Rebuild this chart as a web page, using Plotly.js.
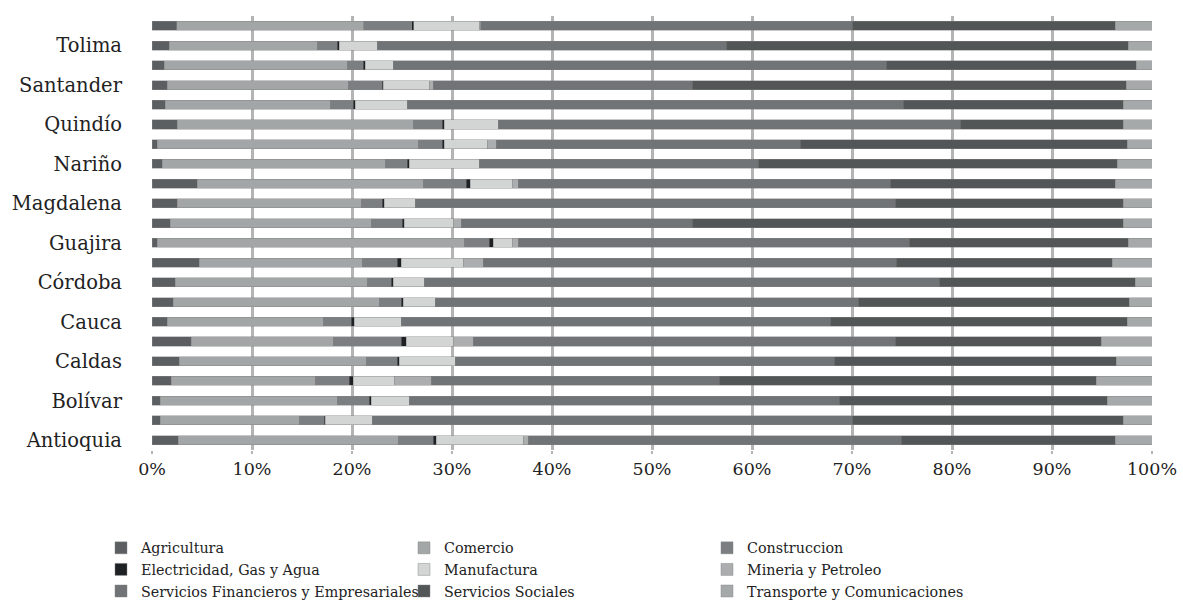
<!DOCTYPE html>
<html>
<head>
<meta charset="utf-8">
<script src="https://cdn.plot.ly/plotly-3.0.1.min.js"></script>
<style>html,body{margin:0;padding:0;background:#fff;}#chart{width:1183px;height:601px;}</style>
</head>
<body>
<div id="chart"></div>
<script>
// Departments, bottom to top
const departments = ['Antioquia','Atlántico','Bolívar','Boyacá','Caldas','Caquetá','Cauca','Cesar','Córdoba','Cundinamarca','Guajira','Huila','Magdalena','Meta','Nariño','Norte de Santander','Quindío','Risaralda','Santander','Sucre','Tolima','Valle del Cauca'];
const yTickLabels = ['Antioquia','Bolívar','Caldas','Cauca','Córdoba','Guajira','Magdalena','Nariño','Quindío','Santander','Tolima'];
const xTickVals = [0,10,20,30,40,50,60,70,80,90,100];
const xTickLabels = ['0%','10%','20%','30%','40%','50%','60%','70%','80%','90%','100%'];

// Shares (%) per sector, same order as departments
const agricultura   = [2.6,0.8,0.8,1.9,2.7,3.9,1.5,2.1,2.3,4.7,0.5,1.8,2.5,4.5,1.0,0.5,2.5,1.3,1.5,1.2,1.7,2.5];
const comercio      = [22.0,13.9,17.7,14.4,18.7,14.2,15.6,20.6,19.2,16.3,30.7,20.1,18.4,22.6,22.3,26.1,23.6,16.5,18.1,18.3,14.8,18.7];
const construccion  = [3.5,2.5,3.2,3.4,3.1,6.8,2.8,2.2,2.4,3.5,2.5,3.1,2.1,4.3,2.2,2.4,2.9,2.3,3.4,1.6,2.0,4.8];
const electricidad  = [0.3,0.1,0.2,0.4,0.2,0.5,0.3,0.2,0.2,0.4,0.4,0.2,0.2,0.4,0.2,0.2,0.2,0.2,0.1,0.2,0.2,0.2];
const manufactura   = [8.7,4.7,3.8,4.1,5.6,4.7,4.7,3.2,3.1,6.2,1.9,4.9,3.1,4.2,7.0,4.3,5.4,5.2,4.6,2.8,3.8,6.6];
const mineria       = [0.5,0.0,0.0,3.7,0.0,2.0,0.0,0.0,0.0,2.0,0.6,0.8,0.0,0.6,0.0,0.9,0.0,0.0,0.4,0.0,0.0,0.1];
const serviciosFin  = [37.3,48.0,43.0,28.8,37.9,42.2,42.9,42.3,51.5,41.3,39.1,23.1,48.0,37.2,27.9,30.4,46.2,49.6,25.9,49.3,34.9,37.2];
const serviciosSoc  = [21.4,27.1,26.8,37.7,28.2,20.6,29.7,27.1,19.6,21.6,21.9,43.1,22.8,22.5,35.9,32.7,16.3,22.0,43.4,25.0,40.2,26.3];
const transporte    = [3.7,2.9,4.5,5.6,3.6,5.1,2.5,2.3,1.7,4.0,2.4,2.9,2.9,3.7,3.5,2.5,2.9,2.9,2.6,1.6,2.4,3.7];

const seriesNames = ['Agricultura','Comercio','Construccion','Electricidad, Gas y Agua','Manufactura','Mineria y Petroleo','Servicios Financieros y Empresariales','Servicios Sociales','Transporte y Comunicaciones'];
const seriesValues = [agricultura,comercio,construccion,electricidad,manufactura,mineria,serviciosFin,serviciosSoc,transporte];
const seriesColors = ['#5b5f61','#a3a6a7','#7b7f81','#1f2224','#d3d5d5','#abadae','#707476','#525657','#a6a9aa'];

const font = "'DejaVu Serif', 'Liberation Serif', serif";

const traces = seriesNames.map((n, i) => ({
  type: 'bar',
  orientation: 'h',
  name: n,
  y: departments,
  x: seriesValues[i],
  marker: {color: seriesColors[i], line: {color: 'rgba(130,130,130,0.55)', width: 0.8}},
  hoverinfo: 'name+x'
}));

const layout = {
  width: 1183,
  height: 601,
  margin: {l: 152, r: 31, t: 16, b: 151, autoexpand: false},
  paper_bgcolor: '#ffffff',
  plot_bgcolor: '#ffffff',
  barmode: 'stack',
  barnorm: 'percent',
  bargap: 0.54,
  font: {family: font, size: 17, color: '#222222'},
  showlegend: true,
  xaxis: {
    range: [0, 100],
    tickvals: xTickVals,
    ticktext: xTickLabels,
    showgrid: true,
    gridcolor: '#b4b4b4',
    gridwidth: 3,
    zeroline: false,
    showline: false,
    ticks: 'outside',
    ticklen: 3,
    tickwidth: 2,
    tickcolor: '#b4b4b4',
    tickfont: {family: font, size: 17.5, color: '#222222'},
    fixedrange: true
  },
  yaxis: {
    type: 'category',
    categoryorder: 'array',
    categoryarray: departments,
    tickvals: yTickLabels,
    ticktext: yTickLabels,
    showgrid: false,
    zeroline: false,
    showline: false,
    ticks: '',
    ticklabelstandoff: 29,
    tickfont: {family: font, size: 19.5, color: '#222222'},
    fixedrange: true
  },
  legend: {
    orientation: 'h',
    traceorder: 'normal',
    x: -0.051,
    xanchor: 'left',
    y: -0.189,
    yanchor: 'top',
    entrywidth: 258,
    entrywidthmode: 'pixels',
    itemwidth: 30,
    font: {family: font, size: 14.3, color: '#222222'},
    bgcolor: 'rgba(0,0,0,0)'
  }
};

Plotly.newPlot('chart', traces, layout, {displayModeBar: false, staticPlot: true});
</script>
</body>
</html>
